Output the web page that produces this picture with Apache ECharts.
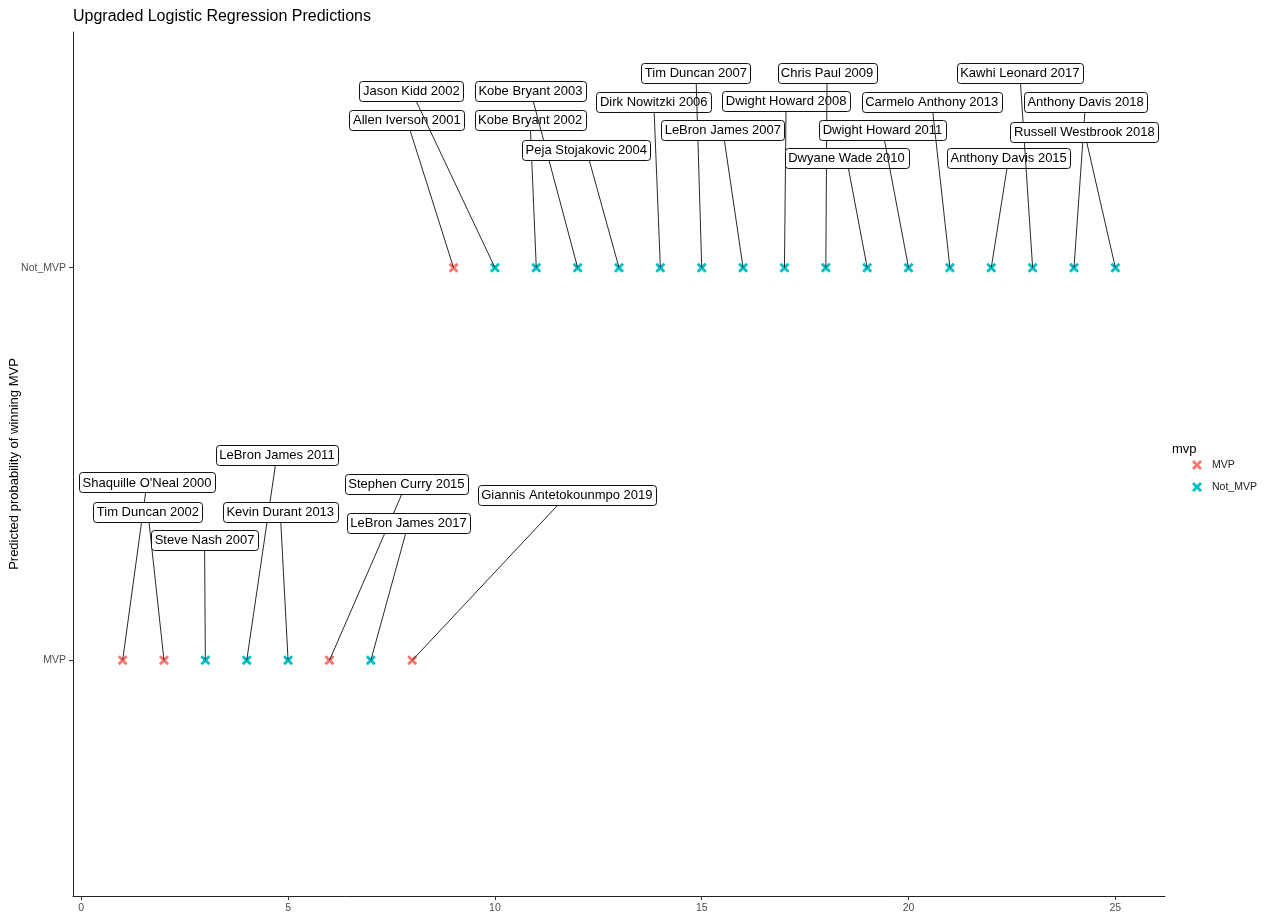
<!DOCTYPE html>
<html>
<head>
<meta charset="utf-8">
<script src="https://cdn.jsdelivr.net/npm/echarts@6/dist/echarts.min.js"></script>
<style>
html,body{margin:0;padding:0;background:#fff;}
#chart{width:1265px;height:917px;}
</style>
</head>
<body>
<div id="chart"></div>
<script>
// ---- data ----
const categories = ['MVP', 'Not_MVP'];
const pointX = [1,2,3,4,5,6,7,8,9,10,11,12,13,14,15,16,17,18,19,20,21,22,23,24,25];
const predicted = ['MVP','MVP','MVP','MVP','MVP','MVP','MVP','MVP',
  'Not_MVP','Not_MVP','Not_MVP','Not_MVP','Not_MVP','Not_MVP','Not_MVP','Not_MVP','Not_MVP',
  'Not_MVP','Not_MVP','Not_MVP','Not_MVP','Not_MVP','Not_MVP','Not_MVP','Not_MVP'];
const actual = ['MVP','MVP','Not_MVP','Not_MVP','Not_MVP','MVP','Not_MVP','MVP',
  'MVP','Not_MVP','Not_MVP','Not_MVP','Not_MVP','Not_MVP','Not_MVP','Not_MVP','Not_MVP',
  'Not_MVP','Not_MVP','Not_MVP','Not_MVP','Not_MVP','Not_MVP','Not_MVP','Not_MVP'];
const players = ["Shaquille O'Neal 2000","Tim Duncan 2002","Steve Nash 2007","LeBron James 2011",
  "Kevin Durant 2013","Stephen Curry 2015","LeBron James 2017","Giannis Antetokounmpo 2019",
  "Allen Iverson 2001","Jason Kidd 2002","Kobe Bryant 2002","Kobe Bryant 2003","Peja Stojakovic 2004",
  "Dirk Nowitzki 2006","Tim Duncan 2007","LeBron James 2007","Dwight Howard 2008","Chris Paul 2009",
  "Dwyane Wade 2010","Dwight Howard 2011","Carmelo Anthony 2013","Anthony Davis 2015",
  "Kawhi Leonard 2017","Anthony Davis 2018","Russell Westbrook 2018"];
// label box centres (data units)
const labelX = [1.59,1.61,2.98,4.73,4.81,7.86,7.91,11.74,
  7.87,7.98,10.85,10.86,12.21,13.84,14.86,15.51,17.04,18.03,18.50,19.37,20.56,22.42,22.69,24.28,24.25];
const labelY = [1.453,1.379,1.307,1.523,1.379,1.450,1.349,1.420,
  2.376,2.450,2.375,2.450,2.300,2.422,2.496,2.351,2.424,2.496,2.279,2.351,2.422,2.279,2.496,2.422,2.346];
const xTicks = [0,5,10,15,20,25];

// ---- build ----
const colors = {MVP:'#F8766D', Not_MVP:'#00BFC4'};
const xPath = 'path://M0,2L2,0L5,3L8,0L10,2L7,5L10,8L8,10L5,7L2,10L0,8L3,5Z';
const yVal = c => categories.indexOf(c) + 1;
const FAM = '"Liberation Sans", Arial, sans-serif';

function seriesFor(cat){
  const d = [];
  pointX.forEach((x,i)=>{ if(actual[i]===cat) d.push([x, yVal(predicted[i])]); });
  return {name:cat, type:'scatter', data:d, symbol:xPath, symbolSize:10,
    itemStyle:{color:colors[cat], opacity:1}, z:2, silent:true};
}

const labelData = pointX.map((x,i)=>[x, yVal(predicted[i]), labelX[i], labelY[i], players[i]]);
const FONT = '13px ' + FAM;
const mctx = document.createElement('canvas').getContext('2d');
mctx.font = FONT;

function renderLabel(params, api){
  const p = api.coord([api.value(0), api.value(1)]);
  const c = api.coord([api.value(2), api.value(3)]);
  const txt = players[params.dataIndex];
  const tw = mctx.measureText(txt).width;
  const w = Math.round(tw + 7), h = 20;
  const hw = w/2, hh = h/2;
  const bx = Math.round(c[0]-hw)+0.5, by = Math.round(c[1]-hh)+0.5;
  const children = [];
  const dx = c[0]-p[0], dy = c[1]-p[1];
  let s = Math.min(dx!==0 ? hw/Math.abs(dx) : Infinity, dy!==0 ? hh/Math.abs(dy) : Infinity);
  if (s < 1){
    children.push({type:'line', shape:{x1:p[0], y1:p[1], x2:c[0]-s*dx, y2:c[1]-s*dy},
      style:{stroke:'#111', lineWidth:0.9}});
  }
  children.push({type:'rect', shape:{x:bx, y:by, width:w, height:h, r:3},
    style:{fill:'#fff', stroke:'#111', lineWidth:1}});
  children.push({type:'text', style:{text:txt, x:c[0], y:c[1]+0.5, align:'center', verticalAlign:'middle',
    font:FONT, fill:'#000'}});
  return {type:'group', children};
}

const chart = echarts.init(document.getElementById('chart'), null, {renderer:'canvas'});
chart.setOption({
  animation:false,
  backgroundColor:'#fff',
  title:{text:'Upgraded Logistic Regression Predictions', left:73, top:9, padding:0,
    textStyle:{fontSize:16, fontWeight:'normal', color:'#000', fontFamily:FAM}},
  grid:{left:73, right:100, top:32, bottom:21, containLabel:false, outerBoundsMode:'none'},
  xAxis:{type:'value', min:-0.2, max:26.2,
    axisLine:{show:true, onZero:false, lineStyle:{color:'#222', width:1}},
    axisTick:{show:true, length:4, lineStyle:{color:'#333'}, customValues:xTicks},
    axisLabel:{fontSize:10.5, color:'#4d4d4d', margin:7, customValues:xTicks, fontFamily:FAM},
    splitLine:{show:false}},
  yAxis:{type:'value', min:0.4, max:2.6,
    name:'Predicted probability of winning MVP', nameLocation:'middle', nameGap:52,
    nameMoveOverlap:false,
    nameTextStyle:{fontSize:13, color:'#000', fontFamily:FAM},
    axisLine:{show:true, onZero:false, lineStyle:{color:'#222', width:1}},
    axisTick:{show:true, length:4, lineStyle:{color:'#333'}, customValues:[1,2]},
    axisLabel:{fontSize:10.5, color:'#4d4d4d', margin:7, customValues:[1,2],
      formatter:v=>categories[Math.round(v)-1] || '', fontFamily:FAM},
    splitLine:{show:false}},
  legend:{orient:'vertical', left:1192, top:459, padding:0, itemWidth:10, itemHeight:10, itemGap:10,
    data:categories,
    textStyle:{fontSize:10.5, color:'#222', lineHeight:12, padding:[0,0,0,5], fontFamily:FAM}},
  graphic:[{type:'text', left:1172, top:443,
    style:{text:'mvp', font:'13px ' + FAM, fill:'#000'}}],
  series:[
    seriesFor('MVP'),
    seriesFor('Not_MVP'),
    {type:'custom', coordinateSystem:'cartesian2d', data:labelData, renderItem:renderLabel,
      encode:{x:0, y:1}, clip:false, silent:true, z:3}
  ]
});
</script>
</body>
</html>
